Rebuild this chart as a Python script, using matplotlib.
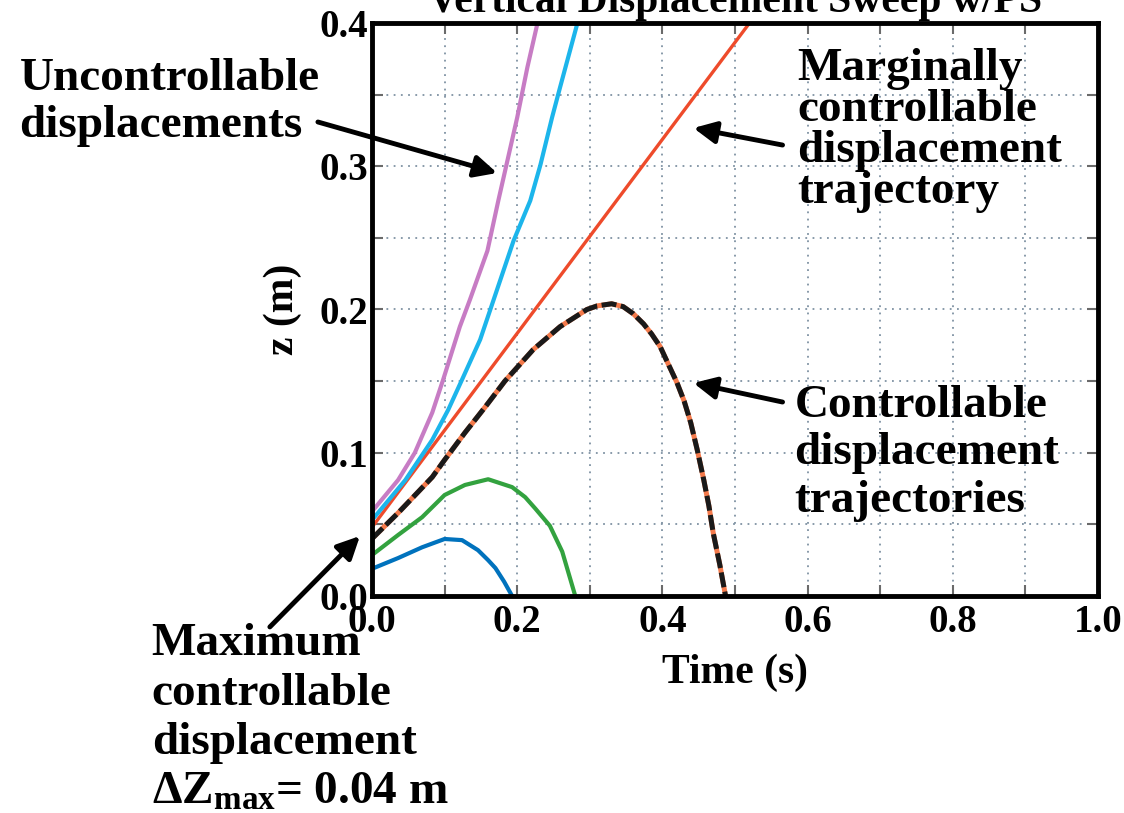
import matplotlib
matplotlib.use("Agg")
import matplotlib.pyplot as plt
from matplotlib.ticker import MultipleLocator

plt.rcParams['font.family'] = ['Liberation Serif', 'DejaVu Serif']
plt.rcParams['font.weight'] = 'bold'
plt.rcParams['axes.labelweight'] = 'bold'
plt.rcParams['axes.titleweight'] = 'bold'
plt.rcParams['mathtext.fontset'] = 'custom'
plt.rcParams['mathtext.rm'] = 'Liberation Serif:bold'
plt.rcParams['mathtext.bf'] = 'Liberation Serif:bold'
plt.rcParams['mathtext.it'] = 'Liberation Serif:bold'

# vertical displacement trajectories, time (s) vs z (m)
t_blue = [0, 0.036, 0.069, 0.085, 0.1, 0.124, 0.146, 0.16, 0.17, 0.182, 0.193]
z_blue = [0.019, 0.0265, 0.034, 0.037, 0.0398, 0.039, 0.032, 0.025, 0.0195, 0.01, 0.0]

t_green = [0, 0.036, 0.069, 0.1, 0.128, 0.16, 0.193, 0.211, 0.225, 0.245, 0.262, 0.28]
z_green = [0.0286, 0.0426, 0.055, 0.0705, 0.0775, 0.0815, 0.076, 0.069, 0.061, 0.049, 0.031, 0.0]

t_max = [0, 0.036, 0.083, 0.1, 0.128, 0.156, 0.183, 0.222, 0.259, 0.296, 0.31, 0.33,
         0.346, 0.36, 0.374, 0.385, 0.397, 0.408, 0.42, 0.43, 0.439, 0.448, 0.457,
         0.464, 0.47, 0.479, 0.487]
z_max = [0.040, 0.058, 0.083, 0.095, 0.114, 0.132, 0.150, 0.172, 0.188, 0.200, 0.2025, 0.204,
         0.202, 0.197, 0.19, 0.183, 0.174, 0.162, 0.149, 0.136, 0.121, 0.102, 0.081,
         0.063, 0.044, 0.022, 0.0]

t_marg = [0, 0.52]
z_marg = [0.048, 0.4]

t_cyan = [0, 0.046, 0.083, 0.105, 0.124, 0.149, 0.177, 0.195, 0.218, 0.232, 0.248, 0.259, 0.283]
z_cyan = [0.053, 0.081, 0.109, 0.130, 0.151, 0.179, 0.221, 0.248, 0.276, 0.301, 0.334, 0.355, 0.40]

t_mag = [0, 0.036, 0.059, 0.083, 0.098, 0.121, 0.135, 0.159, 0.174, 0.2, 0.214, 0.228]
z_mag = [0.059, 0.081, 0.1, 0.128, 0.151, 0.188, 0.207, 0.241, 0.276, 0.334, 0.369, 0.40]

fig = plt.figure(figsize=(11.24, 8.13), dpi=100)
ax = fig.add_axes([372 / 1124, 1 - 596 / 813, (1098 - 372) / 1124, (596 - 23) / 813])

ax.plot(t_blue, z_blue, color='#0072BD', lw=3)
ax.plot(t_green, z_green, color='#33A23F', lw=3)
ax.plot(t_max, z_max, color='#F47A4B', lw=3.6)
black, = ax.plot(t_max, z_max, color='#1a1a1a', lw=3.6)
black.set_dashes([3, 0.9])
ax.plot(t_marg, z_marg, color='#EE4B2B', lw=2.4)
ax.plot(t_cyan, z_cyan, color='#1CB5EB', lw=3)
ax.plot(t_mag, z_mag, color='#C77CC4', lw=3)

ax.set_xlim(0, 1.0)
ax.set_ylim(0, 0.4)
ax.xaxis.set_major_locator(MultipleLocator(0.2))
ax.xaxis.set_minor_locator(MultipleLocator(0.1))
ax.yaxis.set_major_locator(MultipleLocator(0.1))
ax.yaxis.set_minor_locator(MultipleLocator(0.05))
ax.xaxis.set_major_formatter(lambda v, p: f'{v:.1f}')
ax.yaxis.set_major_formatter(lambda v, p: f'{v:.1f}')

ax.grid(True, which='both', linestyle=(0, (1, 3)), color='#7F92A3', lw=1.3)
ax.tick_params(which='both', direction='in', top=True, right=True,
               color='#6a6a6a', length=8, width=1.5)
ax.tick_params(axis='x', which='major', labelsize=28, pad=6)
ax.tick_params(axis='y', which='major', labelsize=28, pad=3)
for s in ax.spines.values():
    s.set_linewidth(3.5)
    s.set_color('black')

ax.set_xlabel('Time (s)', fontsize=30, labelpad=9)
ax.set_ylabel('z (m)', fontsize=30, labelpad=12)
ax.set_title('Vertical Displacement Sweep w/PS', fontsize=30, pad=8)

note = dict(fontsize=34, ha='left', va='top')
arrow = dict(arrowstyle='-|>,head_length=0.45,head_width=0.22', lw=3.5,
             color='black', mutation_scale=30, shrinkA=0, shrinkB=0)

ax.text(-0.4855, 0.3756, 'Uncontrollable\ndisplacements', linespacing=1.17, **note)
ax.annotate('', xy=(0.1724, 0.2953), xytext=(-0.0745, 0.3309),
            arrowprops=arrow, annotation_clip=False)

ax.text(0.586, 0.3825, 'Marginally\ncontrollable\ndisplacement\ntrajectory',
        linespacing=0.965, **note)
ax.annotate('', xy=(0.4428, 0.3267), xytext=(0.5655, 0.3148),
            arrowprops=arrow, annotation_clip=False)

ax.text(0.582, 0.1473, 'Controllable\ndisplacement\ntrajectories', linespacing=1.17, **note)
ax.annotate('', xy=(0.4428, 0.1487), xytext=(0.5655, 0.1354),
            arrowprops=arrow, annotation_clip=False)

ax.text(-0.3034, -0.0188,
        'Maximum\ncontrollable\ndisplacement\n$\\Delta$Z$_{\\mathbf{max}}$= 0.04 m',
        linespacing=1.24, **note)
ax.annotate('', xy=(-0.0166, 0.0419), xytext=(-0.1407, -0.0216),
            arrowprops=arrow, annotation_clip=False)

fig.savefig('out.png', dpi=100, facecolor='white')
